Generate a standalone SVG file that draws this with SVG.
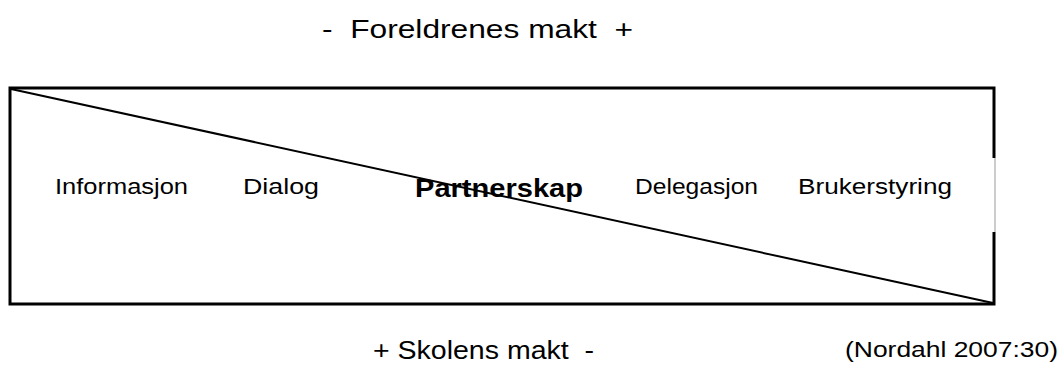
<svg xmlns="http://www.w3.org/2000/svg" width="1063" height="374" viewBox="0 0 1063 374">
  <style>
    text { font-family: "Liberation Sans", Arial, sans-serif; fill: #000; white-space: pre; }
    .head { font-size: 25px; }
    .step { font-size: 22px; }
    .ref { font-size: 22px; }
    .bold { font-size: 25px; font-weight: bold; }
    .edge { stroke: #000; stroke-width: 3; fill: none; }
  </style>
  <rect width="1063" height="374" fill="#fff"/>
  <text class="head" x="322" y="38" textLength="311" lengthAdjust="spacingAndGlyphs">-  Foreldrenes makt  +</text>
  <g id="scale">
    <polyline class="edge" points="994,158 994,88 10,88 10,304 994,304 994,232"/>
    <line x1="995" y1="158" x2="995" y2="232" stroke="#999" stroke-width="1"/>
  </g>
  <g id="connectors">
    <line x1="11" y1="89" x2="993" y2="303" stroke="#000" stroke-width="2"/>
  </g>
  <g id="informasjon"><text class="step" x="55" y="194" textLength="133" lengthAdjust="spacingAndGlyphs">Informasjon</text></g>
  <g id="dialog"><text class="step" x="243" y="194" textLength="76" lengthAdjust="spacingAndGlyphs">Dialog</text></g>
  <g id="partnerskap"><text class="bold" x="415" y="197" textLength="168" lengthAdjust="spacingAndGlyphs">Partnerskap</text></g>
  <g id="delegasjon"><text class="step" x="635" y="194" textLength="123" lengthAdjust="spacingAndGlyphs">Delegasjon</text></g>
  <g id="brukerstyring"><text class="step" x="798" y="194" textLength="154" lengthAdjust="spacingAndGlyphs">Brukerstyring</text></g>
  <text class="head" x="373" y="359" textLength="221" lengthAdjust="spacingAndGlyphs">+ Skolens makt  -</text>
  <text class="ref" x="845" y="357" textLength="213" lengthAdjust="spacingAndGlyphs">(Nordahl 2007:30)</text>
</svg>
